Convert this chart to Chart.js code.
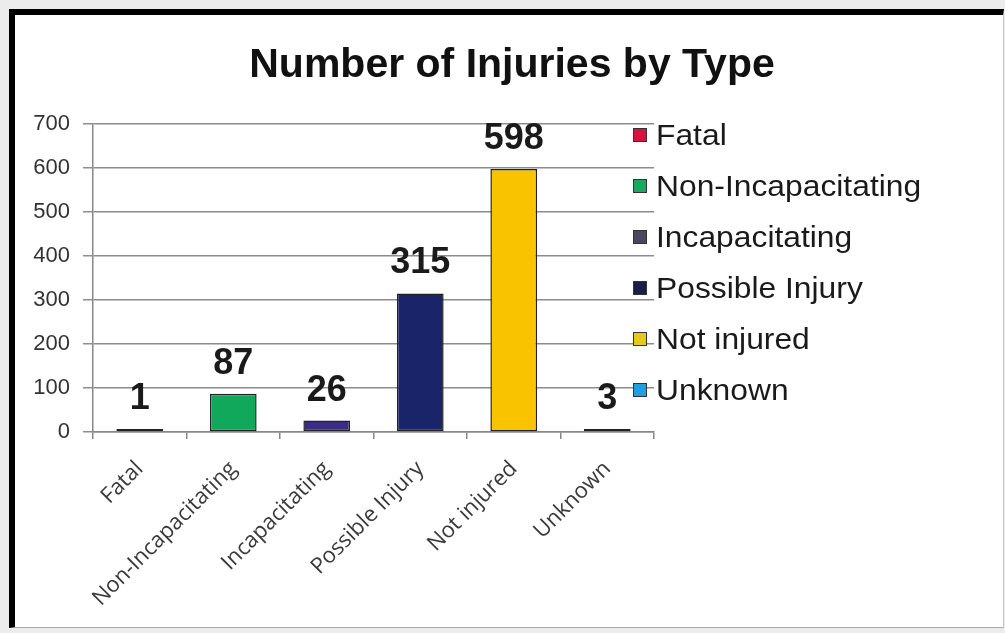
<!DOCTYPE html>
<html>
<head>
<meta charset="utf-8">
<script src="https://cdn.jsdelivr.net/npm/chart.js@4.4.1/dist/chart.umd.min.js"></script>
<style>
  html, body { margin: 0; padding: 0; background: #ececec; }
  #page { position: relative; width: 1005px; height: 633px; overflow: hidden; }
  #frame {
    position: absolute; left: 9px; top: 9px; width: 988px; height: 612px;
    background: #fff;
    border-top: 6px solid #000; border-left: 6px solid #000;
    border-right: 1px solid #c8c8c8; border-bottom: 1px solid #a8a8a8;
  }
  #chart { position: absolute; left: 0; top: 0; }
</style>
</head>
<body>
<div id="page">
  <div id="frame"></div>
  <canvas id="chart" width="1005" height="633"></canvas>
</div>
<script>
// injury counts
const categories = ['Fatal', 'Non-Incapacitating', 'Incapacitating', 'Possible Injury', 'Not injured', 'Unknown'];
const counts = [1, 87, 26, 315, 598, 3];
const barColors = ['#d4123b', '#12a85c', '#3b2d85', '#1a2468', '#f9c300', '#1e9fe0'];
const legendColors = ['#d9143c', '#1aa860', '#4b4760', '#1c1e48', '#e8c81a', '#1ea0e0'];
const yMax = 700;
const yStep = 100;

// title, value labels and the side legend are drawn on top
const decorations = {
  id: 'decorations',
  afterDraw(chart) {
    const ctx = chart.ctx;
    ctx.save();
    ctx.fillStyle = '#111';
    ctx.textAlign = 'center';
    ctx.textBaseline = 'alphabetic';
    ctx.font = 'bold 41px "Liberation Sans"';
    ctx.fillText('Number of Injuries by Type', 512, 77);

    ctx.font = 'bold 36px "Liberation Sans"';
    ctx.fillStyle = '#1a1a1a';
    chart.getDatasetMeta(0).data.forEach((bar, i) => {
      ctx.fillText(String(counts[i]), bar.x, bar.y - 20);
    });

    ctx.textAlign = 'left';
    ctx.font = '30px "Liberation Sans"';
    categories.forEach((name, i) => {
      const cy = 135 + i * 51;
      ctx.fillStyle = legendColors[i];
      ctx.fillRect(633, cy - 7, 13, 13);
      ctx.strokeStyle = '#333';
      ctx.lineWidth = 1;
      ctx.strokeRect(633.5, cy - 6.5, 13, 13);
      ctx.fillStyle = '#1a1a1a';
      ctx.save();
      ctx.translate(656, cy + 10);
      ctx.scale(1.06, 1);
      ctx.fillText(name, 0, 0);
      ctx.restore();
    });
    ctx.restore();
  }
};

new Chart(document.getElementById('chart'), {
  type: 'bar',
  data: {
    labels: categories,
    datasets: [{
      data: counts,
      backgroundColor: barColors,
      borderColor: '#222',
      borderWidth: 1.5,
      borderSkipped: false,
      minBarLength: 3,
      barPercentage: 0.5,
      categoryPercentage: 1,
    }],
  },
  options: {
    responsive: false,
    animation: false,
    layout: { padding: { top: 124, right: 351, bottom: 0, left: 0 } },
    plugins: { legend: { display: false }, title: { display: false }, tooltip: { enabled: false } },
    scales: {
      x: {
        grid: { drawOnChartArea: false, tickLength: 7, color: '#888', lineWidth: 1.5, offset: true },
        border: { color: '#888', width: 1.5 },
        ticks: { minRotation: 45, maxRotation: 45, padding: 17, color: '#3a3a3a', font: { family: 'Open Sans', size: 22 } },
        afterFit(scale) { scale.height = 201; },
      },
      y: {
        min: 0,
        max: yMax,
        ticks: { stepSize: yStep, padding: 13, color: '#333', font: { family: 'Liberation Sans', size: 22 } },
        grid: { color: '#8c8c8c', lineWidth: 1.5, tickLength: 10 },
        border: { color: '#888', width: 1.5 },
        afterFit(scale) { scale.width = 93; },
      },
    },
  },
  plugins: [decorations],
});
</script>
</body>
</html>
